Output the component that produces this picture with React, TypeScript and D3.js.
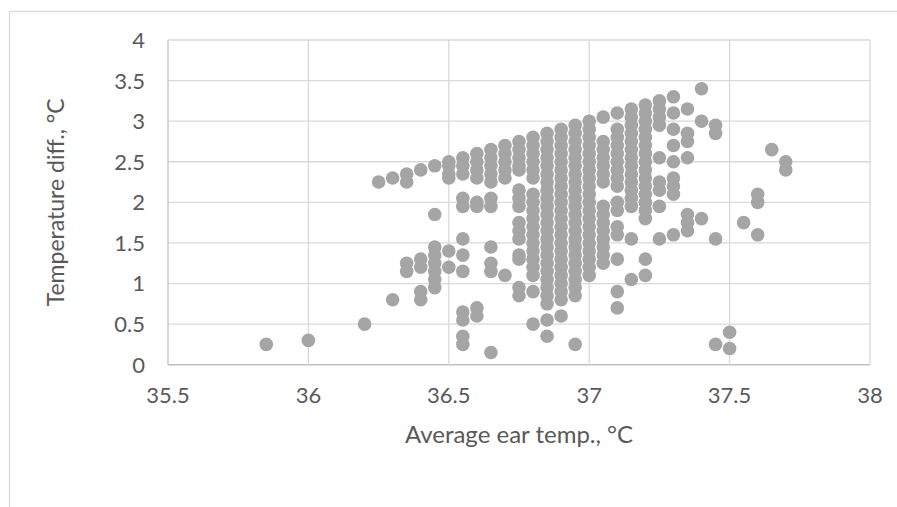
import React from "react";
import * as d3 from "d3";

// Average ear temperature columns (°C) and the temperature differences seen in each column
const earTempColumns: number[] = [
  35.85, 36.0, 36.2, 36.25, 36.3, 36.35, 36.4, 36.45, 36.5, 36.55, 36.6, 36.65, 36.7, 36.75,
  36.8, 36.85, 36.9, 36.95, 37.0, 37.05, 37.1, 37.15, 37.2, 37.25, 37.3, 37.35, 37.4, 37.45,
  37.5, 37.55, 37.6, 37.65, 37.7,
];

const tempDiffByColumn: number[][] = [
  [0.25],
  [0.3],
  [0.5],
  [2.25],
  [2.3, 0.8],
  [2.35, 2.25, 1.25, 1.15],
  [2.4, 1.3, 1.2, 0.9, 0.8],
  [2.45, 1.85, 1.45, 1.35, 1.25, 1.15, 1.05, 0.95],
  [2.5, 2.45, 2.35, 2.3, 1.4, 1.2],
  [2.55, 2.45, 2.35, 2.05, 1.95, 1.55, 1.35, 1.15, 0.65, 0.55, 0.35, 0.25],
  [2.6, 2.5, 2.4, 2.3, 2.0, 1.95, 0.7, 0.6],
  [2.65, 2.55, 2.45, 2.35, 2.25, 2.05, 1.95, 1.45, 1.25, 1.15, 0.15],
  [2.7, 2.6, 2.5, 2.4, 2.3, 1.1],
  [2.75, 2.65, 2.55, 2.45, 2.4, 2.15, 2.05, 1.95, 1.75, 1.65, 1.55, 1.35, 1.3, 0.95, 0.85],
  [2.8, 2.7, 2.6, 2.5, 2.4, 2.3, 2.1, 2.0, 1.9, 1.8, 1.7, 1.6, 1.5, 1.4, 1.3, 1.2, 1.1, 0.9, 0.5],
  [2.85, 2.75, 2.65, 2.55, 2.45, 2.35, 2.25, 2.15, 2.05, 1.95, 1.85, 1.75, 1.65, 1.55, 1.45, 1.35, 1.25, 1.15, 1.05, 0.95, 0.85, 0.75, 0.55, 0.35],
  [2.9, 2.8, 2.7, 2.6, 2.5, 2.4, 2.3, 2.2, 2.1, 2.0, 1.9, 1.8, 1.7, 1.6, 1.5, 1.4, 1.3, 1.2, 1.1, 1.0, 0.9, 0.8, 0.6],
  [2.95, 2.85, 2.75, 2.65, 2.55, 2.45, 2.35, 2.25, 2.15, 2.05, 1.95, 1.85, 1.75, 1.65, 1.55, 1.45, 1.35, 1.25, 1.15, 1.05, 0.95, 0.85, 0.25],
  [3.0, 2.9, 2.8, 2.7, 2.6, 2.5, 2.4, 2.3, 2.2, 2.1, 2.0, 1.9, 1.8, 1.7, 1.6, 1.5, 1.4, 1.3, 1.2, 1.1],
  [3.05, 2.75, 2.65, 2.55, 2.45, 2.35, 2.25, 1.95, 1.85, 1.75, 1.65, 1.55, 1.45, 1.35, 1.25],
  [3.1, 2.9, 2.8, 2.7, 2.6, 2.5, 2.4, 2.3, 2.2, 2.0, 1.9, 1.7, 1.6, 1.3, 0.9, 0.7],
  [3.15, 3.05, 2.95, 2.85, 2.75, 2.65, 2.55, 2.45, 2.35, 2.25, 2.15, 2.05, 1.95, 1.55, 1.05],
  [3.2, 3.1, 3.0, 2.9, 2.8, 2.7, 2.6, 2.5, 2.4, 2.3, 2.2, 2.1, 2.0, 1.9, 1.8, 1.3, 1.1],
  [3.25, 3.15, 3.05, 2.95, 2.55, 2.25, 2.15, 1.95, 1.55],
  [3.3, 3.1, 2.9, 2.7, 2.5, 2.3, 2.2, 2.1, 1.6],
  [3.15, 2.85, 2.75, 2.55, 1.85, 1.75, 1.65],
  [3.4, 3.0, 1.8],
  [2.95, 2.85, 1.55, 0.25],
  [0.4, 0.2],
  [1.75],
  [2.1, 2.0, 1.6],
  [2.65],
  [2.5, 2.4],
];

const xTicks: number[] = [35.5, 36, 36.5, 37, 37.5, 38];
const yTicks: number[] = [0, 0.5, 1, 1.5, 2, 2.5, 3, 3.5, 4];

const xTitle = "Average ear temp., °C";
const yTitle = "Temperature diff., °C";

const W = 897;
const H = 507;
const plot = { left: 168, right: 870, top: 40, bottom: 364.7 };
const FONT = "Lato, 'Open Sans', sans-serif";
const TEXT = "#595959";
const GRID = "#D9D9D9";
const DOT = "#A5A5A5";

export default function App() {
  const x = d3.scaleLinear().domain([35.5, 38]).range([plot.left, plot.right]);
  const y = d3.scaleLinear().domain([0, 4]).range([plot.bottom, plot.top]);

  const points: { t: number; d: number }[] = [];
  earTempColumns.forEach((t, i) => {
    tempDiffByColumn[i].forEach((d) => points.push({ t, d }));
  });

  const fmt = (v: number) => String(v);

  return (
    <svg
      width={W}
      height={H}
      style={{ position: "fixed", left: 0, top: 0, background: "#fff" }}
      fontFamily={FONT}
    >
      <rect x={0} y={0} width={W} height={H} fill="#fff" />
      {/* chart area border */}
      <rect x={9.5} y={11.5} width={W + 20} height={H + 20} fill="none" stroke={GRID} strokeWidth={1.3} />

      {/* gridlines */}
      {yTicks.map((t) => (
        <line
          key={"gy" + t}
          x1={plot.left}
          x2={plot.right}
          y1={y(t)}
          y2={y(t)}
          stroke={t === 0 ? "#BFBFBF" : GRID}
          strokeWidth={t === 0 ? 1.6 : 1.3}
        />
      ))}
      {xTicks.map((t) => (
        <line
          key={"gx" + t}
          x1={x(t)}
          x2={x(t)}
          y1={plot.top}
          y2={plot.bottom}
          stroke={t === 35.5 ? "#C8C8C8" : GRID}
          strokeWidth={t === 35.5 ? 1.5 : 1.3}
        />
      ))}

      {/* points */}
      <g>
        {points.map((p, i) => (
          <circle key={i} cx={x(p.t)} cy={y(p.d)} r={6.8} fill={DOT} />
        ))}
      </g>

      {/* y tick labels */}
      {yTicks.map((t) => (
        <text
          key={"ly" + t}
          x={145}
          y={y(t)}
          dy="0.36em"
          textAnchor="end"
          fontSize={22}
          fill={TEXT}
        >
          {fmt(t)}
        </text>
      ))}
      {/* x tick labels */}
      {xTicks.map((t) => (
        <text
          key={"lx" + t}
          x={x(t)}
          y={403}
          textAnchor="middle"
          fontSize={22}
          fill={TEXT}
        >
          {fmt(t)}
        </text>
      ))}

      {/* axis titles */}
      <text
        x={(plot.left + plot.right) / 2}
        y={443}
        textAnchor="middle"
        fontSize={24}
        fill={TEXT}
      >
        {xTitle}
      </text>
      <text
        transform={`translate(64, ${(plot.top + plot.bottom) / 2}) rotate(-90)`}
        textAnchor="middle"
        fontSize={23}
        fill={TEXT}
      >
        {yTitle}
      </text>
    </svg>
  );
}
